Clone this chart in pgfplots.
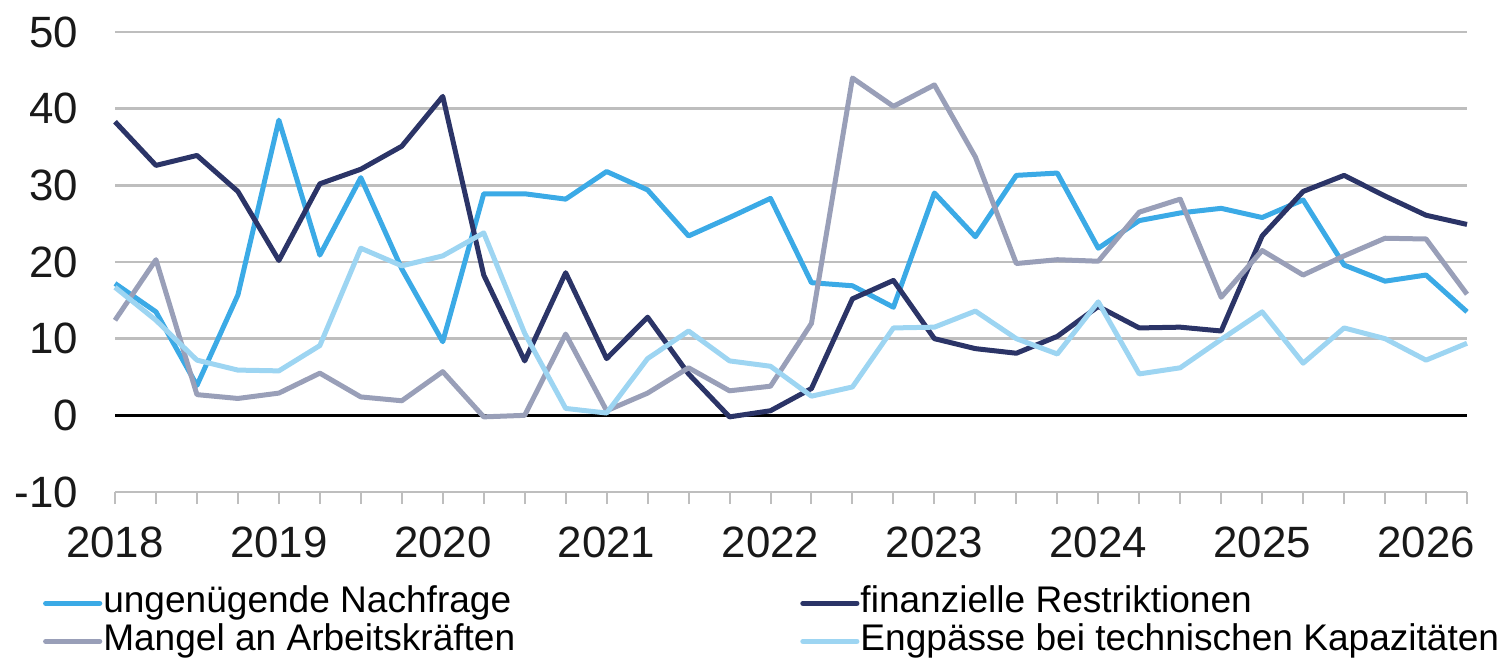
\documentclass[border=0pt]{standalone}
\usepackage{fontspec}
\setmainfont{Liberation Sans}
\usepackage{pgfplots}
\usepackage{pgfplotstable}
\pgfplotsset{compat=1.18}
\definecolor{cN}{RGB}{59,170,230}
\definecolor{cF}{RGB}{43,52,103}
\definecolor{cM}{RGB}{153,159,184}
\definecolor{cE}{RGB}{157,213,242}
\definecolor{cGrid}{RGB}{190,190,190}

\pgfplotstableread{
i N F M E
0 17.2 38.3 12.4 16.7
1 13.5 32.6 20.3 12.4
2 3.9 33.9 2.7 7.2
3 15.7 29.2 2.2 5.9
4 38.5 20.2 2.9 5.8
5 20.9 30.2 5.5 9.1
6 31.0 32.1 2.4 21.8
7 19.1 35.1 1.9 19.5
8 9.6 41.6 5.7 20.8
9 28.9 18.3 -0.2 23.8
10 28.9 7.1 0.0 10.7
11 28.2 18.6 10.6 0.9
12 31.8 7.4 0.6 0.3
13 29.4 12.8 2.9 7.4
14 23.4 5.4 6.2 11.0
15 25.8 -0.2 3.2 7.1
16 28.3 0.6 3.8 6.4
17 17.3 3.5 12.0 2.5
18 16.9 15.2 44.0 3.7
19 14.1 17.6 40.3 11.4
20 29.0 10.0 43.1 11.5
21 23.3 8.7 33.7 13.6
22 31.3 8.1 19.8 10.0
23 31.6 10.3 20.3 8.0
24 21.8 14.2 20.1 14.8
25 25.4 11.4 26.5 5.4
26 26.4 11.5 28.2 6.2
27 27.0 11.0 15.4 9.9
28 25.8 23.4 21.5 13.5
29 28.1 29.2 18.3 6.8
30 19.6 31.3 20.8 11.4
31 17.5 28.6 23.1 10.0
32 18.3 26.1 23.0 7.2
33 13.5 24.9 15.8 9.4
}\data

\begin{document}
\begin{tikzpicture}
\useasboundingbox (0,0) rectangle (755bp,329.5bp);
\begin{axis}[
  at={(57.5bp,83.5bp)}, anchor=south west,
  scale only axis, width=676bp, height=230bp,
  xmin=0, xmax=33, ymin=-10, ymax=50,
  ytick={-10,0,10,20,30,40,50},
  xtick={0,...,33},
  xticklabels={2018,,,,2019,,,,2020,,,,2021,,,,2022,,,,2023,,,,2024,,,,2025,,,,2026,},
  axis line style={draw=none},
  ymajorgrids,
  major grid style={cGrid, line width=1.2bp},
  tick pos=left,
  tick align=outside,
  xtick style={cGrid, line width=1bp},
  major tick length=6bp,
  ytick style={draw=none},
  tick label style={font=\fontsize{22}{22}\selectfont, text=black!90},
  /pgf/number format/assume math mode=true,
  yticklabel shift=9bp,
  xticklabel shift=8bp,
  clip=false,
  legend columns=2,
  legend cell align=left,
  legend style={
    at={(axis description cs:-0.0535,-0.200)}, anchor=north west,
    draw=none, fill=none, inner sep=0pt,
    font=\fontsize{18.6}{18.6}\selectfont,
    nodes={inner sep=0.5bp, text height=13.6bp, text depth=4.4bp},
    /tikz/every odd column/.append style={column sep=0bp},
    /tikz/every even column/.append style={column sep=142bp},
  },
  legend image code/.code={\draw[#1, line width=2.6bp, line cap=round] (0bp,0bp) -- (27bp,0bp);},
  every axis plot/.append style={line width=2.5bp, line join=round, mark=none},
]
\draw[black, line width=1.2bp] (axis cs:0,0) -- (axis cs:33,0);
\addplot[cN] table[x=i, y=N] {\data};
\addlegendentry{ungenügende Nachfrage}
\addplot[cF] table[x=i, y=F] {\data};
\addlegendentry{finanzielle Restriktionen}
\addplot[cM] table[x=i, y=M] {\data};
\addlegendentry{Mangel an Arbeitskräften}
\addplot[cE] table[x=i, y=E] {\data};
\addlegendentry{Engpässe bei technischen Kapazitäten}
\end{axis}
\end{tikzpicture}
\end{document}
